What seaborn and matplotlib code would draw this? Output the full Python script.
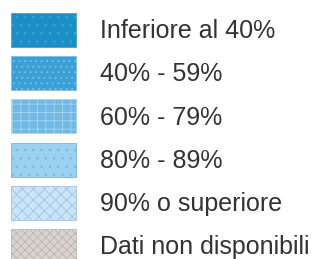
import matplotlib
matplotlib.use("Agg")
import matplotlib.pyplot as plt
from matplotlib.patches import Patch
import seaborn as sns

# legend classes (coverage levels)
labels = ["Inferiore al 40%", "40% - 59%", "60% - 79%", "80% - 89%",
          "90% o superiore", "Dati non disponibili"]
fills = ["#1b8ec6", "#3aa0d6", "#6fb9e4", "#9bd0ef", "#c8e6f7", "#d9d4d0"]
hatch_colors = ["#3fa3d8", "#7cc0e8", "#a6d4f0", "#7fb2e0", "#a9bfe6", "#bdb5b2"]
hatches = ["..", "...", "++", "..", "xxx", "xxxx"]

sns.set_style("white")
plt.rcParams["font.family"] = ["Liberation Sans", "DejaVu Sans"]
plt.rcParams["hatch.linewidth"] = 0.6

fig = plt.figure(figsize=(3.23, 2.59), dpi=100)
ax = fig.add_axes([0, 0, 1, 1])
ax.set_axis_off()

handles = [Patch(facecolor=f, edgecolor=hc, hatch=h, linewidth=0.6, label=l)
           for l, f, hc, h in zip(labels, fills, hatch_colors, hatches)]

fs = 18
leg = fig.legend(handles=handles, loc="upper left", frameon=False, fontsize=fs,
                 handlelength=2.6, handleheight=1.715, handletextpad=0.96,
                 labelspacing=0.37, borderpad=0.0, borderaxespad=0.0,
                 labelcolor="#333333")
leg.set_bbox_to_anchor((11 / 323, 1 - 13 / 259), transform=fig.transFigure)

fig.savefig("out.png", dpi=100)
